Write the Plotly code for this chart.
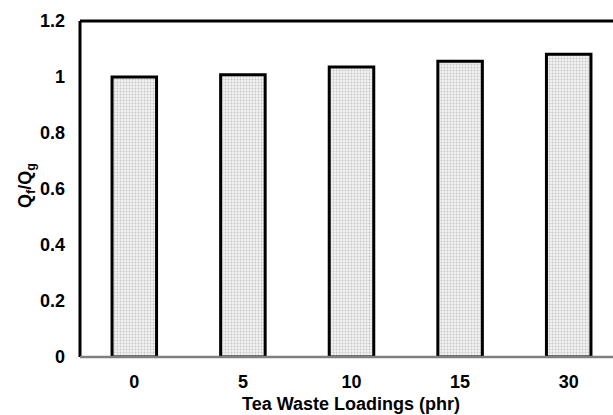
import plotly.graph_objects as go

categories = ["0", "5", "10", "15", "30"]
ratio_values = [1.0, 1.008, 1.036, 1.056, 1.081]
y_ticks = [0, 0.2, 0.4, 0.6, 0.8, 1.0, 1.2]
y_tick_labels = ["0", "0.2", "0.4", "0.6", "0.8", "1", "1.2"]

W, H = 613, 415
ML, MR, MT, MB = 80, 0, 21, 58
plot_w = W - ML - MR
plot_h = H - MT - MB
cat_px = 108.6
x_hi = -0.5 + plot_w / cat_px

FONT = "Liberation Sans, Arial, sans-serif"

fig = go.Figure()
fig.add_trace(go.Bar(
    x=list(range(len(categories))),
    y=ratio_values,
    width=0.41,
    marker=dict(
        color="#ffffff",
        line=dict(color="#000000", width=3),
        pattern=dict(shape=".", fgcolor="#9a9a9a", bgcolor="#f2f2f2", size=3, solidity=0.3),
    ),
    showlegend=False,
))

fig.update_layout(
    width=W, height=H,
    margin=dict(l=ML, r=MR, t=MT, b=MB, autoexpand=False),
    paper_bgcolor="white", plot_bgcolor="white",
    font=dict(family=FONT, size=18, color="#000000"),
    xaxis=dict(
        range=[-0.5, x_hi],
        tickmode="array",
        tickvals=list(range(len(categories))),
        ticktext=[f"<b>{c}</b>" for c in categories],
        showgrid=False, zeroline=False,
        showline=False, ticks="",
        ticklabelstandoff=12,
        tickfont=dict(family=FONT, size=18),
    ),
    yaxis=dict(
        range=[0, 1.2],
        tickmode="array",
        tickvals=y_ticks,
        ticktext=[f"<b>{t}</b>" for t in y_tick_labels],
        showgrid=False, zeroline=False,
        showline=False, ticks="",
        ticklabelstandoff=14,
        tickfont=dict(family=FONT, size=18),
    ),
    shapes=[
        dict(type="line", xref="paper", yref="paper", x0=0, x1=1.05, y0=1, y1=1,
             line=dict(color="#000000", width=3)),
        dict(type="line", xref="paper", yref="paper", x0=0, x1=0, y0=0, y1=1,
             line=dict(color="#000000", width=3)),
        dict(type="line", xref="paper", yref="paper", x0=0, x1=1.05, y0=0, y1=0,
             line=dict(color="#7f7f7f", width=2.5)),
    ],
    annotations=[
        dict(text="<b>Tea Waste Loadings (phr)</b>", xref="paper", yref="paper",
             x=(351 - ML) / plot_w, y=(MT + plot_h - 404) / plot_h,
             xanchor="center", yanchor="middle", showarrow=False,
             font=dict(family=FONT, size=18)),
        dict(text="<b>Q<sub>f</sub>/Q<sub>g</sub></b>", xref="paper", yref="paper",
             x=(26 - ML) / plot_w, y=(MT + plot_h - 186) / plot_h,
             xanchor="center", yanchor="middle", textangle=-90, showarrow=False,
             font=dict(family=FONT, size=18)),
    ],
)

fig.write_html("out.html", config={"displayModeBar": False})

with open("out.html", "r", encoding="utf-8") as f:
    html = f.read()
html = html.replace("<head>", "<head><style>html,body{margin:0;padding:0;overflow:hidden;}</style>", 1)
with open("out.html", "w", encoding="utf-8") as f:
    f.write(html)
